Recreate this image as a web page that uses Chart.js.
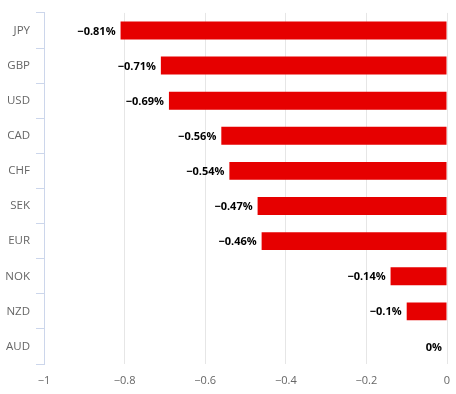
<!DOCTYPE html>
<html>
<head>
<meta charset="utf-8">
<script src="https://cdn.jsdelivr.net/npm/chart.js@4"></script>
<style>
  html, body { margin: 0; padding: 0; background: #fff; }
  #wrap { width: 456px; height: 394px; }
</style>
</head>
<body>
<div id="wrap"><canvas id="chart" width="456" height="394"></canvas></div>
<script>
// ── Data ─────────────────────────────────────────────────
const currencies = ['JPY', 'GBP', 'USD', 'CAD', 'CHF', 'SEK', 'EUR', 'NOK', 'NZD', 'AUD'];
const changes    = [-0.81, -0.71, -0.69, -0.56, -0.54, -0.47, -0.46, -0.14, -0.1, 0];
const xTicks     = [-1, -0.8, -0.6, -0.4, -0.2, 0];

const FONT = '"Open Sans", "DejaVu Sans", sans-serif';
const fmt  = (v) => String(v).replace('-', '\u2212');

// ── Value labels at bar ends ─────────────────────────────
const valueLabels = {
  id: 'valueLabels',
  afterDatasetsDraw(chart) {
    const ctx = chart.ctx;
    const meta = chart.getDatasetMeta(0);
    ctx.save();
    ctx.font = 'bold 11px ' + FONT;
    ctx.fillStyle = '#000';
    ctx.textAlign = 'right';
    ctx.textBaseline = 'middle';
    meta.data.forEach((bar, i) => {
      const v = changes[i];
      ctx.fillText(fmt(v) + '%', bar.x - 5, bar.y + 1);
    });
    ctx.restore();
  }
};

new Chart(document.getElementById('chart').getContext('2d'), {
  type: 'bar',
  data: {
    labels: currencies,
    datasets: [{
      data: changes,
      backgroundColor: '#e60000',
      borderWidth: 0,
      categoryPercentage: 1,
      barPercentage: 0.51,
    }]
  },
  options: {
    indexAxis: 'y',
    responsive: false,
    animation: false,
    layout: { padding: { top: 10, right: 9, left: 1, bottom: 0 } },
    plugins: { legend: { display: false }, tooltip: { enabled: false } },
    scales: {
      x: {
        min: -1, max: 0,
        afterBuildTicks: (s) => { s.ticks = xTicks.map(v => ({ value: v })); },
        afterFit: (s) => { s.height = 30; s.paddingLeft = 0; s.paddingRight = 0; },
        ticks: {
          color: '#666', font: { family: FONT, size: 11 }, padding: 10,
          callback: (v) => fmt(Math.round(v * 10) / 10)
        },
        grid: { color: '#e6e6e6', drawTicks: false },
        border: { display: false }
      },
      y: {
        afterFit: (s) => { s.width = 43; },
        ticks: { color: '#666', font: { family: FONT, size: 11.5 }, padding: 6 },
        grid: { drawOnChartArea: false, offset: true, tickLength: 8, color: '#ccd6eb' },
        border: { color: '#ccd6eb' }
      }
    }
  },
  plugins: [valueLabels]
});
</script>
</body>
</html>
